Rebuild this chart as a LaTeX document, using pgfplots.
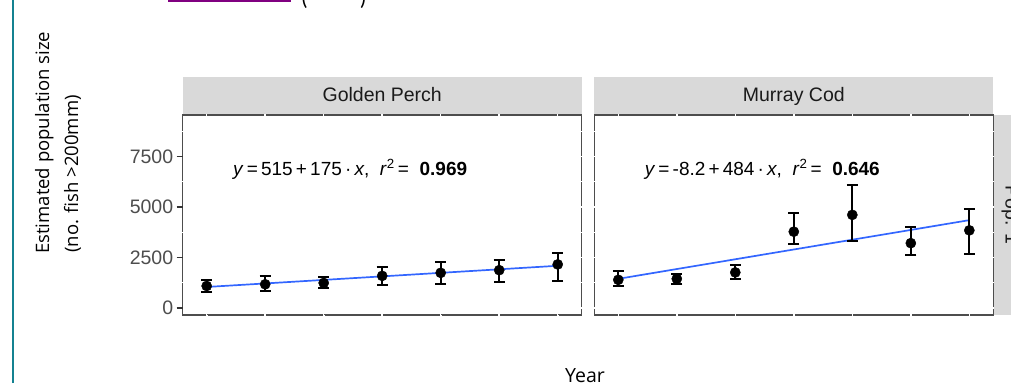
\documentclass[border=0pt]{standalone}
\usepackage{pgfplots}
\pgfplotsset{compat=1.18}
\usepackage{pgfplotstable}
\usepackage{fontspec}
\setmainfont{Liberation Sans}
\newfontfamily\labfont{Open Sans}
\newfontfamily\docfont{Carlito}
\definecolor{bordercol}{HTML}{4D4D4D}
\definecolor{tickcol}{HTML}{333333}
\definecolor{ticklab}{HTML}{4D4D4D}
\definecolor{stripgray}{HTML}{D9D9D9}
\definecolor{striptext}{HTML}{1A1A1A}
\definecolor{fitblue}{HTML}{3366FF}
\definecolor{tealline}{RGB}{20,130,145}
\definecolor{linkpurple}{HTML}{800080}

\pgfplotstableread{
x y ep em
3 1090 317 300
4 1173 400 333
5 1240 283 250
6 1590 433 467
7 1740 517 567
8 1873 500 566
9 2157 566 817
}\gpdata

\pgfplotstableread{
x y ep em
3 1394 417 300
4 1444 250 250
5 1761 350 317
6 3777 934 633
7 4610 1484 1283
8 3210 817 566
9 3844 1033 1150
}\mcdata

\pgfplotsset{panel/.style={
  scale only axis, width=399pt, height=200pt,
  anchor=south west,
  xmin=2.59, xmax=9.41, ymin=-347, ymax=9554,
  clip=false,
  axis line style={draw=none},
  axis background/.style={draw=bordercol, line width=1.4pt},
  xtick={3,4,5,6,7,8,9}, xticklabels={}, x tick style={white},
  ytick={0,2500,5000,7500}, minor ytick={1250,3750,6250,8750},
  grid=both,
  major grid style={white, line width=1.5pt, line cap=rect},
  minor grid style={white, line width=1pt, line cap=rect},
  tick align=outside, major tick length=6pt, minor tick length=0pt,
  ytick pos=left, xtick pos=bottom,
  yticklabel style={font=\fontsize{19.5}{20}\selectfont, text=ticklab},
  /pgf/number format/assume math mode=true,
  /pgf/number format/1000 sep={},
},
ptstyle/.style={only marks, mark=*, mark size=5.1pt, black,
  error bars/.cd, y dir=both, y explicit,
  error bar style={line width=2pt, black},
  error mark options={rotate=90, mark size=5.5pt, line width=2pt, black}},
fitstyle/.style={fitblue, line width=1.7pt, no markers},
}

\newcommand{\annfont}{\fontsize{19}{20}\selectfont}
\newcommand{\stripfont}{\fontsize{19.5}{20}\selectfont\color{striptext}}

\begin{document}
\begin{tikzpicture}[x=1pt,y=1pt]
\useasboundingbox (0,0) rectangle (1011,383);
\clip (0,0) rectangle (1011,383);

% document decorations
\draw[tealline, line width=2.4pt] (13,0) -- (13,383);
\fill[linkpurple] (167.7,381.3) rectangle (290.7,383);
\node[anchor=base west, inner sep=0pt, font=\docfont\fontsize{22}{24}\selectfont, text=black] at (301,377.5) {(\hspace{52pt})};

% left panel
\begin{axis}[panel, at={(182.7pt,68pt)},
  y tick style={draw=tickcol, line width=1.1pt}]
\addplot[fitstyle] coordinates {(3,1040) (9,2090)};
\addplot[ptstyle] table[x=x, y=y, y error plus=ep, y error minus=em] {\gpdata};
\fill[stripgray] ([yshift=0.8pt]rel axis cs:0,1) rectangle ([yshift=38pt]rel axis cs:1,1);
\node[font=\stripfont, anchor=base, inner sep=0pt] at ([yshift=13pt]rel axis cs:0.5,1) {Golden Perch};
\node[anchor=base west, inner sep=0pt, font=\annfont] at (axis cs:3.45,6583)
  {\textit{y}\,=\,515\,+\,175\,·\,\textit{x},\ \ \textit{r}\textsuperscript{2}\,=\ \ \textbf{0.969}};
\end{axis}

% right panel
\begin{axis}[panel, at={(594.3pt,68pt)}, yticklabels={},
  y tick style={white}]
\addplot[fitstyle] coordinates {(3,1444) (9,4348)};
\addplot[ptstyle] table[x=x, y=y, y error plus=ep, y error minus=em] {\mcdata};
\fill[stripgray] ([yshift=0.8pt]rel axis cs:0,1) rectangle ([yshift=38pt]rel axis cs:1,1);
\node[font=\stripfont, anchor=base, inner sep=0pt] at ([yshift=13pt]rel axis cs:0.5,1) {Murray Cod};
\fill[stripgray] ([xshift=1pt]rel axis cs:1,0) rectangle ([xshift=38pt]rel axis cs:1,1);
\node[font=\stripfont, rotate=-90, anchor=base, inner sep=0pt] at ([xshift=12.4pt]rel axis cs:1,0.5) {Pop. 1};
\node[anchor=base west, inner sep=0pt, font=\annfont] at (axis cs:3.45,6583)
  {\textit{y}\,=\,-8.2\,+\,484\,·\,\textit{x},\ \ \textit{r}\textsuperscript{2}\,=\ \ \textbf{0.646}};
\end{axis}

% axis titles
\node[rotate=90, anchor=base west, inner sep=0pt, font=\labfont\fontsize{18.5}{20}\selectfont] at (49,129) {Estimated population size};
\node[rotate=90, anchor=base west, inner sep=0pt, font=\labfont\fontsize{18.5}{20}\selectfont] at (78,130) {(no. fish >200mm)};
\node[anchor=base, inner sep=0pt, font=\labfont\fontsize{19.5}{20}\selectfont] at (585,1) {Year};
\end{tikzpicture}
\end{document}
